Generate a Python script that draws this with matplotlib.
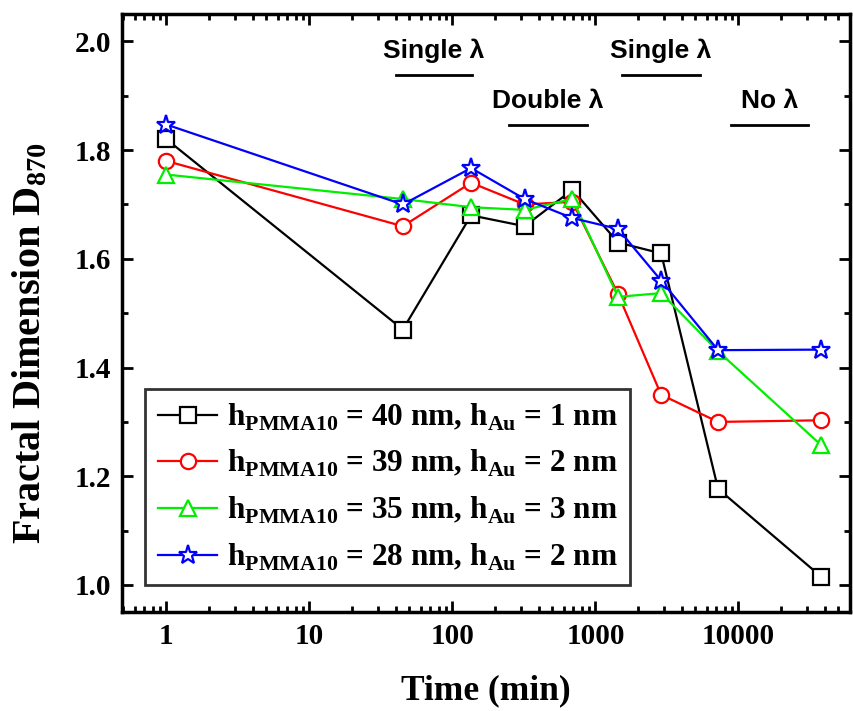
import matplotlib
matplotlib.use("Agg")
import matplotlib.pyplot as plt
from matplotlib.ticker import MultipleLocator, LogLocator, NullFormatter, FixedLocator

# donnees
temps = [1, 45, 135, 320, 690, 1440, 2880, 7200, 38000]
d_40_1 = [1.82, 1.47, 1.68, 1.66, 1.727, 1.63, 1.61, 1.177, 1.015]
d_39_2 = [1.78, 1.66, 1.74, 1.70, 1.705, 1.535, 1.35, 1.30, 1.303]
d_35_3 = [1.755, 1.71, 1.695, 1.69, 1.71, 1.53, 1.537, 1.43, 1.257]
d_28_2 = [1.847, 1.70, 1.767, 1.71, 1.675, 1.655, 1.56, 1.432, 1.433]

labels = [r"h$_{\mathbf{PMMA10}}$ = 40 nm, h$_{\mathbf{Au}}$ = 1 nm",
          r"h$_{\mathbf{PMMA10}}$ = 39 nm, h$_{\mathbf{Au}}$ = 2 nm",
          r"h$_{\mathbf{PMMA10}}$ = 35 nm, h$_{\mathbf{Au}}$ = 3 nm",
          r"h$_{\mathbf{PMMA10}}$ = 28 nm, h$_{\mathbf{Au}}$ = 2 nm"]

# regimes: (texte, debut, fin, y de la barre)
regimes = [("Single λ", 40, 137, 1.939),
           ("Double λ", 248, 870, 1.847),
           ("Single λ", 1530, 5370, 1.939),
           ("No λ", 8870, 30600, 1.847)]

plt.rcParams['font.family'] = 'Liberation Serif'
plt.rcParams['font.weight'] = 'bold'
plt.rcParams['axes.labelweight'] = 'bold'
plt.rcParams['mathtext.fontset'] = 'custom'
plt.rcParams['mathtext.bf'] = 'Liberation Serif:bold'
plt.rcParams['mathtext.rm'] = 'Liberation Serif:bold'

fig, ax = plt.subplots(figsize=(8.54, 7.11), dpi=100)
fig.subplots_adjust(left=0.143, right=0.995, top=0.98, bottom=0.139)

series = [(d_40_1, 'k', 's'), (d_39_2, '#ff0000', 'o'),
          (d_35_3, '#00ee00', '^'), (d_28_2, '#0000ff', '*')]
for (y, c, m), lab in zip(series, labels):
    ms = 14 if m == '*' else 11
    ax.plot(temps, y, color=c, marker=m, markersize=ms, markerfacecolor='white',
            markeredgecolor=c, markeredgewidth=1.6, linewidth=1.6, label=lab)

for txt, a, b, yb in regimes:
    ax.plot([a, b], [yb, yb], 'k', linewidth=2)
    xm = (a * b) ** 0.5
    ax.text(xm, yb + 0.022, txt, ha='center', va='bottom', fontsize=19,
            family=['Liberation Sans Narrow', 'Liberation Sans'], weight='bold')

ax.set_xscale('log')
ax.set_xlim(0.49, 6e4)
ax.set_ylim(0.95, 2.05)
ax.xaxis.set_major_locator(FixedLocator([1, 10, 100, 1000, 10000]))
ax.set_xticklabels(['1', '10', '100', '1000', '10000'])
ax.xaxis.set_minor_locator(LogLocator(base=10, subs=range(2, 10)))
ax.xaxis.set_minor_formatter(NullFormatter())
ax.yaxis.set_major_locator(MultipleLocator(0.2))
ax.yaxis.set_minor_locator(MultipleLocator(0.1))
ax.set_yticks([1.0, 1.2, 1.4, 1.6, 1.8, 2.0])

for s in ax.spines.values():
    s.set_linewidth(2.5)
ax.tick_params(which='both', direction='in', top=True, right=True, width=2)
ax.tick_params(which='major', length=8, labelsize=21, pad=8)
ax.tick_params(which='minor', length=4)

ax.set_xlabel('Time (min)', fontsize=25.5, labelpad=17)
ax.set_ylabel(r'Fractal Dimension D$_{\mathbf{870}}$', fontsize=29)
ax.yaxis.set_label_coords(-0.1, 0.45)

leg = ax.legend(loc='lower left', bbox_to_anchor=(0.032, 0.045), borderaxespad=0,
                fontsize=22.5, frameon=True, fancybox=False, edgecolor='k',
                handlelength=1.9, handletextpad=0.3, borderpad=0.4,
                labelspacing=0.5)
leg.get_frame().set_linewidth(2)

fig.savefig('out.png', dpi=100)
